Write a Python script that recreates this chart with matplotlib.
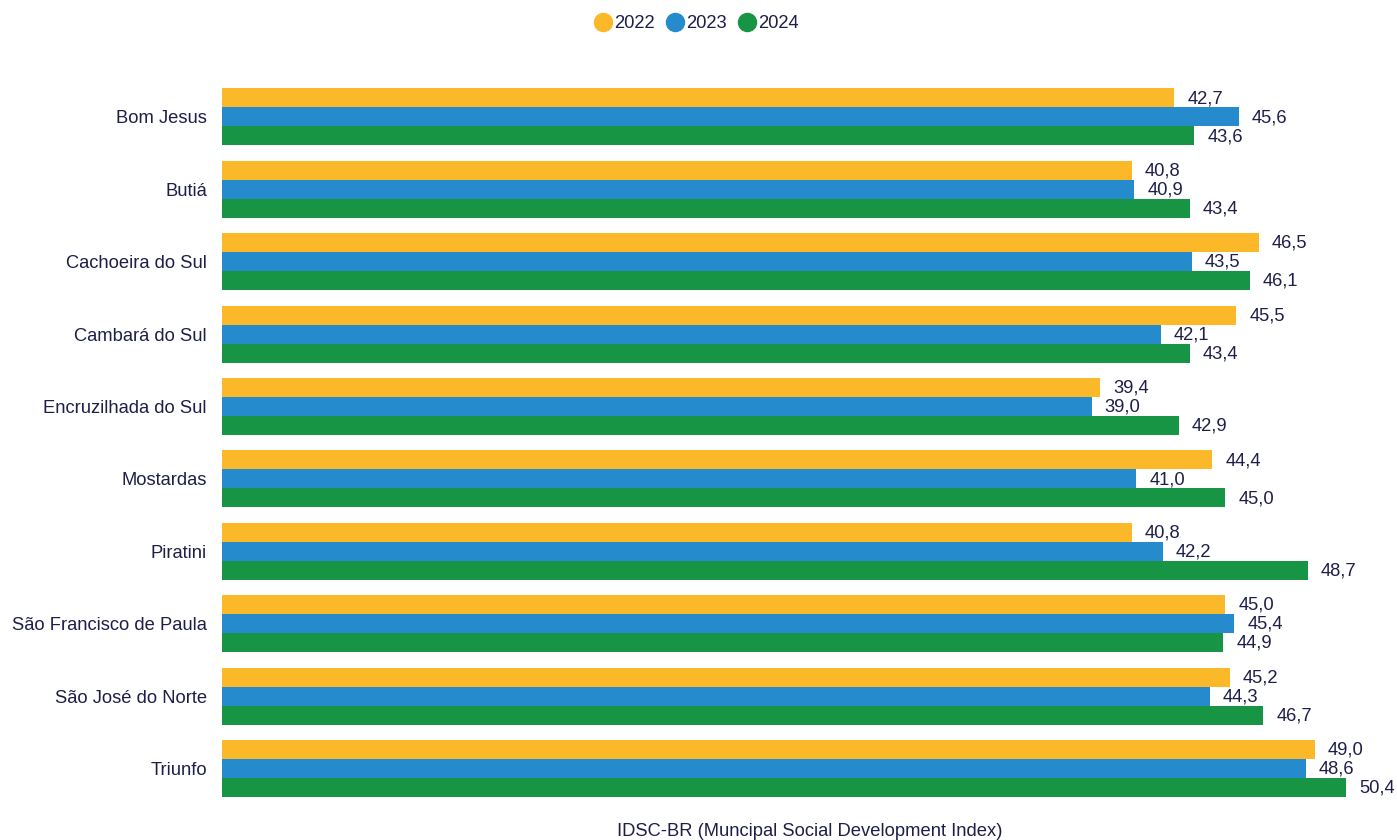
import numpy as np
import matplotlib.pyplot as plt
from matplotlib.lines import Line2D

plt.rcParams['font.family'] = ['Liberation Sans', 'DejaVu Sans']

municipios = ['Bom Jesus', 'Butiá', 'Cachoeira do Sul', 'Cambará do Sul',
              'Encruzilhada do Sul', 'Mostardas', 'Piratini',
              'São Francisco de Paula', 'São José do Norte', 'Triunfo']
anos = ['2022', '2023', '2024']
v2022 = [42.7, 40.8, 46.5, 45.5, 39.4, 44.4, 40.8, 45.0, 45.2, 49.0]
v2023 = [45.6, 40.9, 43.5, 42.1, 39.0, 41.0, 42.2, 45.4, 44.3, 48.6]
v2024 = [43.6, 43.4, 46.1, 43.4, 42.9, 45.0, 48.7, 44.9, 46.7, 50.4]
cores = ['#FBB829', '#268BCC', '#179444']
texto = '#1E1E4B'
fs = 13.2

fig = plt.figure(figsize=(13.97, 8.4), dpi=100)
ax = fig.add_axes([0.159, 0.042, 0.841, 0.862])

y = np.arange(len(municipios))
h = 0.262
for k, (vals, cor) in enumerate(zip([v2022, v2023, v2024], cores)):
    pos = y + (k - 1) * h
    ax.barh(pos, vals, height=h, color=cor)
    for p, v in zip(pos, vals):
        ax.annotate(f'{v:.1f}'.replace('.', ','), (v, p), xytext=(9.5, -0.5),
                    textcoords='offset points', va='center', ha='left',
                    fontsize=fs, color=texto)

ax.set_yticks(y)
ax.set_yticklabels(municipios, fontsize=fs, color=texto)
ax.tick_params(axis='y', length=0, pad=11)
ax.set_xticks([])
ax.set_ylim(len(municipios) - 0.5, -0.5)
ax.set_xlim(0, 52.7)
for s in ax.spines.values():
    s.set_visible(False)
ax.set_xlabel('IDSC-BR (Muncipal Social Development Index)', fontsize=fs,
              color=texto, labelpad=13)

handles = [Line2D([], [], marker='o', linestyle='', markersize=13,
                  color=c) for c in cores]
fig.legend(handles, anos, loc='upper center', bbox_to_anchor=(0.495, 0.997),
           ncol=3, frameon=False, fontsize=fs, handletextpad=-0.4,
           columnspacing=0.1, labelcolor=texto, borderaxespad=0.3)

fig.savefig('out.png', dpi=100)
